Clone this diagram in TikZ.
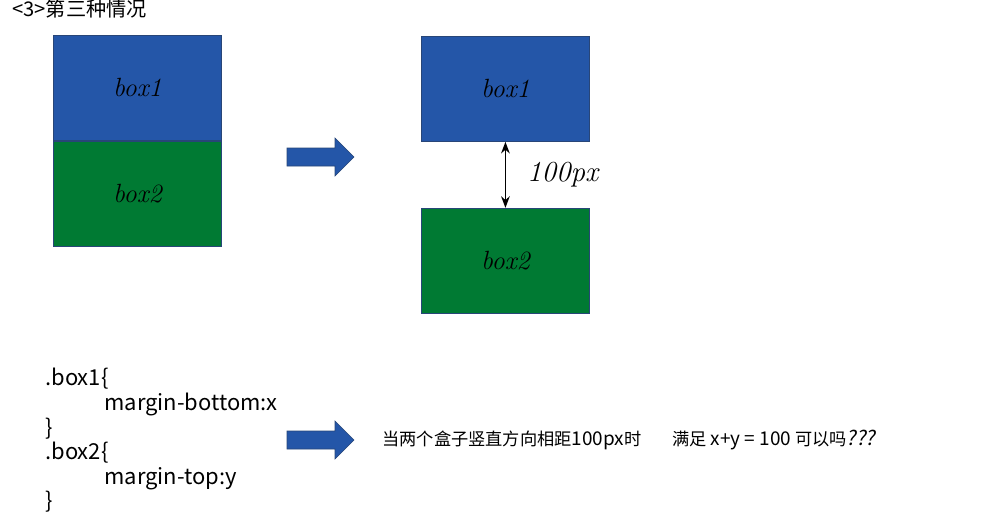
\documentclass[tikz,border=0pt]{standalone}
\usepackage{fontspec}
\newfontfamily\cjk{Noto Sans CJK SC}
\newfontfamily\cjkslant[FakeSlant=0.2]{Noto Sans CJK SC}
\usepackage{tikz}
\usetikzlibrary{arrows.meta,positioning}

\definecolor{boxblue}{RGB}{36,86,168}
\definecolor{boxgreen}{RGB}{0,122,51}
\definecolor{boxedge}{RGB}{40,70,120}

\newcommand\latinbig[1]{{\fontsize{10.8}{12}\selectfont #1}}

\tikzset{
  box/.style={draw=boxedge,line width=0.5pt,minimum width=3.36cm,
    minimum height=2.1cm,inner sep=0pt,font=\itshape\fontsize{15}{17}\selectfont},
  bluebox/.style={box,fill=boxblue},
  greenbox/.style={box,fill=boxgreen},
  codeline/.style={anchor=base west,inner sep=0pt,font=\cjk\fontsize{12.5}{14}\selectfont},
  note/.style={anchor=west,inner sep=0pt,font=\cjk\fontsize{9.8}{12}\selectfont},
  fatarrow/.style={fill=boxblue,draw=boxedge,line width=0.3pt}
}

\begin{document}
\begin{tikzpicture}[x=0.02cm,y=-0.02cm,>=Stealth]
  \useasboundingbox (0,0) rectangle (999,514);
  \node[anchor=west,inner sep=0pt,font=\cjk\fontsize{11.5}{13}\selectfont] (title) at (12,9) {<3>第三种情况};

  % before: boxes touching
  \node[bluebox,anchor=north west] (lbox1) at (53,35) {box1};
  \node[greenbox,below=0pt of lbox1] (lbox2) {box2};

  % after: 100px apart
  \node[bluebox,anchor=north west] (rbox1) at (421,36) {box1};
  \node[greenbox,below=1.32cm of rbox1] (rbox2) {box2};
  \draw[<->,thick] (rbox1) -- (rbox2)
    node[midway,right=0.42cm,inner sep=0pt,font=\itshape\fontsize{16.5}{18}\selectfont] (gap) {100px};

  \foreach \y in {157,440} {
    \fill[fatarrow] (287,\y-9) -- (335,\y-9) -- (335,\y-19) -- (354,\y)
      -- (335,\y+19) -- (335,\y+9) -- (287,\y+9) -- cycle;
  }

  % css
  \node[codeline] (c1) at (45,385) {.box1\{};
  \node[codeline] (c2) at (104,410) {margin-bottom:x};
  \node[codeline] (c3) at (45,435) {\}};
  \node[codeline] (c4) at (45,459) {.box2\{};
  \node[codeline] (c5) at (104,484) {margin-top:y};
  \node[codeline] (c6) at (45,508) {\}};

  \node[note] (cond) at (382,440) {当两个盒子竖直方向相距\latinbig{100px}时};
  \node[note] (ask) at (672,440)
    {满足 \latinbig{x+y = 100} 可以吗{\cjkslant\fontsize{11.5}{13}\selectfont ???}};
\end{tikzpicture}
\end{document}
